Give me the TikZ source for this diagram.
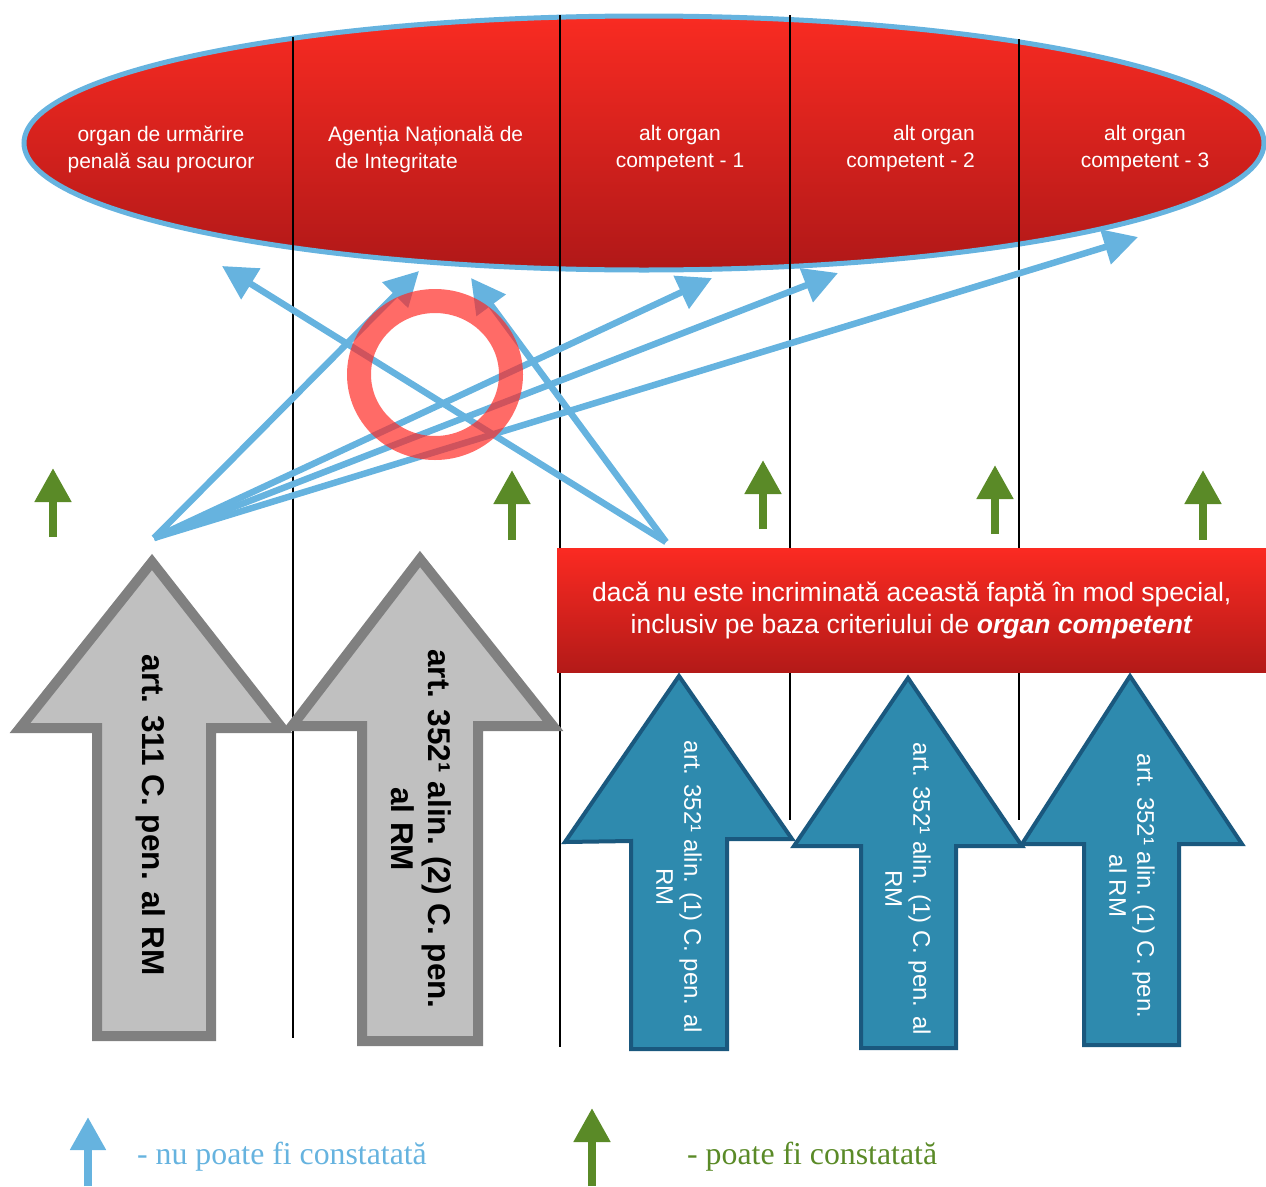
\documentclass[tikz,border=0pt]{standalone}
\usepackage{fontspec}
\setmainfont{Liberation Sans}
\newfontfamily\legendfont{Liberation Serif}
\usetikzlibrary{arrows.meta,shapes.geometric}

\definecolor{ellTop}{RGB}{249,43,34}
\definecolor{ellBot}{RGB}{176,24,24}
\definecolor{banTop}{RGB}{251,42,34}
\definecolor{banBot}{RGB}{179,26,24}
\definecolor{lineBlue}{RGB}{102,179,223}
\definecolor{ringRed}{RGB}{255,40,35}
\definecolor{arrGreen}{RGB}{90,138,39}
\definecolor{grayFill}{RGB}{192,192,192}
\definecolor{grayEdge}{RGB}{128,128,128}
\definecolor{tealFill}{RGB}{46,138,174}
\definecolor{tealEdge}{RGB}{26,88,126}

\begin{document}
\begin{tikzpicture}[x=1pt,y=-1pt,
  sepline/.style={draw=black, line width=1.1pt},
  conn/.style={draw=lineBlue, line width=6.5pt, -{Triangle[width=35pt,length=34pt]}},
  greenup/.style={draw=arrGreen, line width=8pt, -{Triangle[width=35pt,length=34pt]}},
  blueup/.style={draw=lineBlue, line width=8pt, -{Triangle[width=34pt,length=33pt]}},
  grayarrow/.style={fill=grayFill, draw=grayEdge, line width=10pt, line join=miter},
  tealarrow/.style={fill=tealFill, draw=tealEdge, line width=4pt, line join=miter},
  orgtext/.style={text=white, inner sep=0pt, font=\fontsize{21}{27}\selectfont},
  graytext/.style={text=black, inner sep=0pt, rotate=-90, align=center, font=\bfseries\fontsize{31.5}{37}\selectfont},
  tealtext/.style={text=white, inner sep=0pt, rotate=-90, align=center, font=\fontsize{24}{28}\selectfont},
  legendtext/.style={inner sep=0pt, anchor=west, font=\legendfont\fontsize{31.8}{36}\selectfont}
]
\useasboundingbox (0,0) rectangle (1266,1186);

% --- top ellipse
\node (org) [ellipse, draw=lineBlue, line width=5pt, top color=ellTop, bottom color=ellBot,
  minimum width=1240pt, minimum height=254pt, inner sep=0pt] at (644,143) {};

% --- separators
\draw[sepline] (293,37) -- (293,1038);
\draw[sepline] (560,15) -- (560,1047);
\draw[sepline] (790,15) -- (790,820);
\draw[sepline] (1019,39) -- (1019,820);

% --- ellipse texts
\node (o1) [orgtext, align=center] at (161,149) {organ de urmărire\\penală sau procuror};
\node (o2) [orgtext, align=left, anchor=west] at (328,149) {Agenția Națională de\\\hspace*{7pt}de Integritate};
\node (o3) [orgtext, align=center] at (680,149) {alt organ\\competent - 1};
\node (o4) [orgtext, align=right, anchor=east] at (975,149) {alt organ\\competent - 2};
\node (o5) [orgtext, align=center] at (1145,149) {alt organ\\competent - 3};

% --- green arrows
\coordinate (g1a) at (53,537);   \coordinate (g1b) at (53,468);
\coordinate (g2a) at (512,540);  \coordinate (g2b) at (512,470);
\coordinate (g3a) at (763,529);  \coordinate (g3b) at (763,460);
\coordinate (g4a) at (995,534);  \coordinate (g4b) at (995,465);
\coordinate (g5a) at (1203,540); \coordinate (g5b) at (1203,470);
\draw[greenup] (g1a) -- (g1b);
\draw[greenup] (g2a) -- (g2b);
\draw[greenup] (g3a) -- (g3b);
\draw[greenup] (g4a) -- (g4b);
\draw[greenup] (g5a) -- (g5b);

% --- blue connectors
\coordinate (s1) at (154,538);
\coordinate (s2) at (666,542);
\coordinate (p1) at (222,266);
\coordinate (p2) at (419,271);
\coordinate (p3) at (471,278);
\coordinate (p4) at (712,278);
\coordinate (p5) at (838,273);
\coordinate (p6) at (1138,237);
\draw[conn] (s1) -- (p2);
\draw[conn] (s1) -- (p4);
\draw[conn] (s1) -- (p5);
\draw[conn] (s1) -- (p6);
\draw[conn] (s2) -- (p1);
\draw[conn] (s2) -- (p3);

% --- red ring
\draw[draw=ringRed, draw opacity=0.69, line width=24pt] (435,374.5) ellipse [x radius=76, y radius=73.5];

% --- banner
\node (banner) [rectangle, top color=banTop, bottom color=banBot, minimum width=709pt, minimum height=124pt,
  anchor=north west, inner sep=0pt, text=white, align=center, font=\fontsize{26.5}{32}\selectfont]
  at (557,548) {\rule{0pt}{5pt}dacă nu este incriminată această faptă în mod special,\\inclusiv pe baza criteriului de \textbf{\textit{organ competent}}};

% --- gray arrows
\draw[grayarrow] (152,562) -- (282,728) -- (211,728) -- (211,1036) -- (97,1036) -- (97,728) -- (20,728) -- cycle;
\draw[grayarrow] (420,559) -- (553,726) -- (478,726) -- (478,1041) -- (362,1041) -- (362,726) -- (292,726) -- cycle;
\node (a1) [graytext] at (151,815) {art. 311 C. pen. al RM};
\node (a2) [graytext] at (421,829) {art. 352¹ alin. (2) C. pen.\\al RM};

% --- teal arrows
\draw[tealarrow] (679,676) -- (792,839) -- (727,839) -- (727,1049) -- (631,1049) -- (631,841) -- (565,842) -- cycle;
\draw[tealarrow] (908,678) -- (1022,846) -- (956,846) -- (956,1048) -- (861,1048) -- (861,846) -- (794,846) -- cycle;
\draw[tealarrow] (1130,676) -- (1242,844) -- (1179,844) -- (1179,1045) -- (1084,1045) -- (1084,844) -- (1022,844) -- cycle;
\node (b1) [tealtext] at (679,887) {art. 352¹ alin. (1) C. pen. al\\RM};
\node (b2) [tealtext] at (908,889) {art. 352¹ alin. (1) C. pen. al\\RM};
\node (b3) [tealtext] at (1132,886) {art. 352¹ alin. (1) C. pen.\\al RM};

% --- legend
\coordinate (lb1) at (88,1186);  \coordinate (lb2) at (88,1117);
\coordinate (lg1) at (592,1186); \coordinate (lg2) at (592,1108);
\draw[blueup] (lb1) -- (lb2);
\draw[greenup] (lg1) -- (lg2);
\node (l1) [legendtext, text=lineBlue] at (137,1157) {- nu poate fi constatată};
\node (l2) [legendtext, text=arrGreen] at (687,1157) {- poate fi constatată};
\end{tikzpicture}
\end{document}
